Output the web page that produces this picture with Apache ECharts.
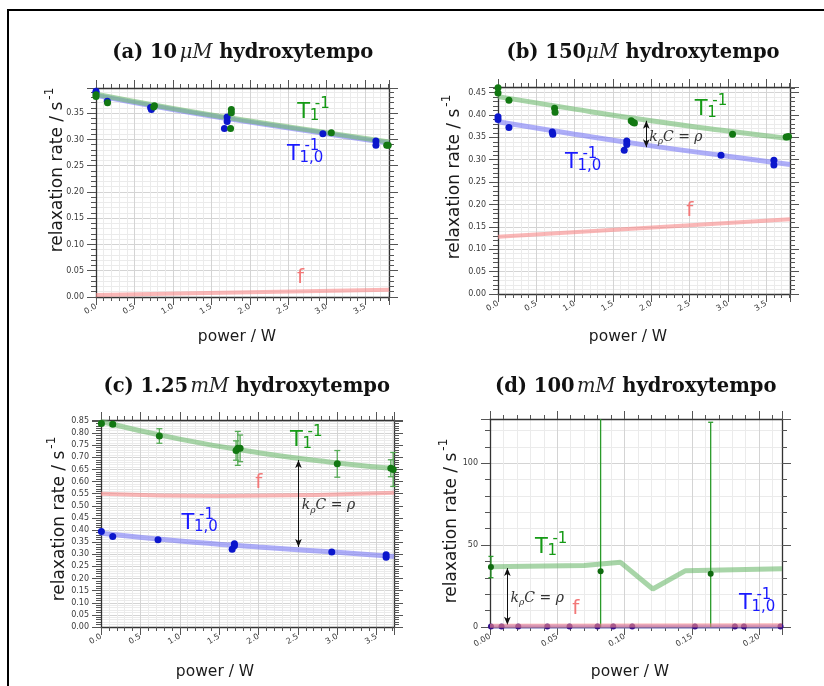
<!DOCTYPE html>
<html><head><meta charset="utf-8">
<script src="https://cdn.jsdelivr.net/npm/echarts@6/dist/echarts.min.js"></script>
<style>html,body{margin:0;padding:0;background:#fff}#c{width:824px;height:686px}</style>
</head><body><div id="c"></div>
<script>
// ---------- Panel (a) 10 uM ----------
const aBlueX  = [0.00, 0.00, 0.147, 0.71, 0.72, 1.67, 1.705, 1.705, 2.95, 3.64, 3.64];
const aBlueY  = [0.392, 0.389, 0.373, 0.361, 0.357, 0.321, 0.343, 0.334, 0.311, 0.297, 0.289];
const aGreenX = [0.00, 0.00, 0.15, 0.75, 0.76, 1.75, 1.76, 1.76, 3.06, 3.78, 3.80];
const aGreenY = [0.385, 0.382, 0.370, 0.362, 0.364, 0.321, 0.351, 0.357, 0.313, 0.289, 0.289];
const aFitX   = [0, 1, 2, 3, 3.81];
const aGreenFit = [0.386, 0.359, 0.335, 0.313, 0.295];
const aBlueFit  = [0.384, 0.357, 0.333, 0.311, 0.293];
const aFX = [0, 3.81];
const aF  = [0.004, 0.014];

// ---------- Panel (b) 150 uM ----------
const bBlueX  = [0.00, 0.00, 0.143, 0.708, 0.715, 1.647, 1.68, 1.68, 2.91, 3.60, 3.60];
const bBlueY  = [0.396, 0.390, 0.372, 0.362, 0.357, 0.321, 0.342, 0.334, 0.310, 0.299, 0.288];
const bGreenX = [0.00, 0.00, 0.143, 0.738, 0.745, 1.738, 1.76, 1.78, 3.06, 3.76, 3.79];
const bGreenY = [0.461, 0.449, 0.433, 0.415, 0.406, 0.387, 0.384, 0.382, 0.357, 0.351, 0.352];
const bFitX   = [0, 1, 2, 3, 3.81];
const bGreenFit = [0.441, 0.413, 0.387, 0.364, 0.347];
const bBlueFit  = [0.385, 0.357, 0.331, 0.308, 0.2895];
const bFX = [0, 3.81];
const bF  = [0.128, 0.167];

// ---------- Panel (c) 1.25 mM ----------
const cBlueX  = [0.005, 0.149, 0.724, 1.665, 1.694, 1.694, 2.93, 3.62, 3.62];
const cBlueY  = [0.394, 0.373, 0.360, 0.321, 0.343, 0.335, 0.309, 0.298, 0.288];
const cGreenX = [0.005, 0.149, 0.741, 1.715, 1.737, 1.766, 3.00, 3.68, 3.71];
const cGreenY = [0.840, 0.836, 0.788, 0.728, 0.737, 0.737, 0.673, 0.655, 0.650];
const cGreenErr = [0.008, 0.008, 0.030, 0.040, 0.070, 0.055, 0.055, 0.035, 0.070];
const cFitX   = [0, 1, 2, 3, 3.72];
const cGreenFit = [0.848, 0.775, 0.719, 0.677, 0.654];
const cBlueFit  = [0.387, 0.355, 0.330, 0.308, 0.291];
const cFX = [0, 1.5, 3.72];
const cF  = [0.550, 0.540, 0.554];

// ---------- Panel (d) 100 mM ----------
const dBlueX  = [0.0007, 0.0086, 0.0210, 0.0426, 0.0591, 0.0799, 0.0916, 0.1057, 0.1523, 0.182, 0.1887, 0.2159];
const dBlueY  = [0.3, 0.3, 0.3, 0.3, 0.3, 0.3, 0.3, 0.3, 0.3, 0.3, 0.3, 0.3];
const dGreenX = [0.0007, 0.0822, 0.164];
const dGreenY = [36.6, 34.1, 32.5];
const dGreenErr = [6.5, 200, 92.5];
const dGreenFitX = [0, 0.07, 0.097, 0.121, 0.145, 0.217];
const dGreenFit  = [36.8, 37.5, 39.5, 23.2, 34.3, 35.6];
const dBlueFitX = [0, 0.217];
const dBlueFit  = [0.3, 0.3];
const dFX = [0, 0.217];
const dF  = [0.8, 1.0];

// ---------- axes / ticks ----------
const xMax = [3.81, 3.81, 3.72, 0.217];
const yMax = [0.398, 0.4625, 0.854, 127];
const xInterval = [0.5, 0.5, 0.5, 0.05];
const yInterval = [0.05, 0.05, 0.05, 50];
const xDecimals = [1, 1, 1, 2];
const yDecimals = [2, 2, 2, 0];
const titles = [
  ['(a)', '10', 'μM', true],
  ['(b)', '150', 'μM', false],
  ['(c)', '1.25', 'mM', true],
  ['(d)', '100', 'mM', true]
];

const chart = echarts.init(document.getElementById('c'), null, {renderer: 'canvas'});

const gridBoxes = [
  {left: 96, top: 88, width: 293, height: 209},
  {left: 498, top: 87, width: 292, height: 207},
  {left: 101, top: 420, width: 293, height: 207},
  {left: 490, top: 419, width: 292, height: 208}
];

const AX = '#333', TK = '#555', LB = '#3a3a3a';
const xAxes = [], yAxes = [];
for (let i = 0; i < 4; i++) {
  const common = {type: 'value', gridIndex: i, min: 0};
  xAxes.push(Object.assign({}, common, {
    position: 'bottom', max: xMax[i], interval: xInterval[i],
    axisLine: {show: true, onZero: false, lineStyle: {color: AX, width: 1.3}},
    axisTick: {show: true, length: 8, lineStyle: {color: TK}},
    minorTick: {show: true, splitNumber: 5, length: 4, lineStyle: {color: TK}},
    axisLabel: {show: true, rotate: 30, fontSize: 8, color: LB, margin: 9, fontFamily: 'DejaVu Sans',
      showMaxLabel: false, formatter: v => v.toFixed(xDecimals[i])},
    splitLine: {show: true, lineStyle: {color: '#d4d4d4', width: 1}},
    minorSplitLine: {show: true, lineStyle: {color: '#ebebeb', width: 1}}
  }));
  xAxes.push(Object.assign({}, common, {
    position: 'top', max: xMax[i], interval: xInterval[i],
    axisLine: {show: true, onZero: false, lineStyle: {color: AX, width: 1.3}},
    axisTick: {show: true, length: 8, lineStyle: {color: TK}},
    minorTick: {show: true, splitNumber: 5, length: 4, lineStyle: {color: TK}},
    axisLabel: {show: false}, splitLine: {show: false}, minorSplitLine: {show: false}
  }));
  yAxes.push(Object.assign({}, common, {
    position: 'left', max: yMax[i], interval: yInterval[i],
    axisLine: {show: true, onZero: false, lineStyle: {color: AX, width: 1.3}},
    axisTick: {show: true, length: 9, lineStyle: {color: TK}},
    minorTick: {show: true, splitNumber: 5, length: 5, lineStyle: {color: TK}},
    axisLabel: {show: true, fontSize: 8, color: LB, margin: 12, fontFamily: 'DejaVu Sans',
      showMaxLabel: false, formatter: v => v.toFixed(yDecimals[i])},
    splitLine: {show: true, lineStyle: {color: '#d4d4d4', width: 1}},
    minorSplitLine: {show: true, lineStyle: {color: '#ebebeb', width: 1}}
  }));
  yAxes.push(Object.assign({}, common, {
    position: 'right', max: yMax[i], interval: yInterval[i],
    axisLine: {show: true, onZero: false, lineStyle: {color: AX, width: 1.3}},
    axisTick: {show: true, length: 9, lineStyle: {color: TK}},
    minorTick: {show: true, splitNumber: 5, length: 5, lineStyle: {color: TK}},
    axisLabel: {show: false}, splitLine: {show: false}, minorSplitLine: {show: false}
  }));
}

const zip = (xs, ys) => xs.map((x, k) => [x, ys[k]]);
const zip3 = (xs, ys, es) => xs.map((x, k) => [x, ys[k], es[k]]);

const GREEN_PT = '#127812', BLUE_PT = '#0b16cc';
const GREEN_FIT = 'rgba(110,185,110,0.6)', BLUE_FIT = 'rgba(120,120,245,0.6)', F_LINE = 'rgba(246,135,135,0.6)';

function scatter(i, xs, ys, color, size) {
  return {type: 'scatter', xAxisIndex: 2 * i, yAxisIndex: 2 * i, data: zip(xs, ys),
    symbolSize: size, itemStyle: {color: color, opacity: 1}, z: 5, silent: true};
}
function line(i, xs, ys, color, width, smooth, z, extra) {
  return Object.assign({type: 'line', xAxisIndex: 2 * i, yAxisIndex: 2 * i, data: zip(xs, ys),
    showSymbol: false, symbol: 'none', smooth: smooth, lineStyle: {color: color, width: width},
    z: z, silent: true}, extra || {});
}
function arrowLine(x, y1, y2) {
  return {markLine: {silent: true, symbol: ['arrow', 'arrow'], symbolSize: [5, 8],
    label: {show: false}, lineStyle: {color: '#111', width: 1, type: 'solid'},
    data: [[{coord: [x, y1]}, {coord: [x, y2]}]]}};
}
function errBars(i, xs, ys, es, color, capW) {
  return {type: 'custom', xAxisIndex: 2 * i, yAxisIndex: 2 * i, data: zip3(xs, ys, es), z: 4, silent: true,
    encode: {x: 0, y: 1},
    renderItem: function (params, api) {
      const x = api.value(0), y = api.value(1), e = api.value(2);
      const top = api.coord([x, y + e]), bot = api.coord([x, y - e]);
      const cs = params.coordSys;
      const yT = cs.y, yB = cs.y + cs.height;
      const t = Math.max(top[1], yT), b = Math.min(bot[1], yB);
      const st = {stroke: color, lineWidth: 1.3};
      const ch = [{type: 'line', shape: {x1: top[0], y1: t, x2: top[0], y2: b}, style: st}];
      if (top[1] >= yT) ch.push({type: 'line', shape: {x1: top[0] - capW / 2, y1: top[1], x2: top[0] + capW / 2, y2: top[1]}, style: st});
      if (bot[1] <= yB) ch.push({type: 'line', shape: {x1: bot[0] - capW / 2, y1: bot[1], x2: bot[0] + capW / 2, y2: bot[1]}, style: st});
      return {type: 'group', children: ch};
    }};
}

const series = [
  // (a) index 0..4
  line(0, aFX, aF, F_LINE, 4, false, 2),
  line(0, aFitX, aBlueFit, BLUE_FIT, 5, true, 2),
  line(0, aFitX, aGreenFit, GREEN_FIT, 5, true, 3),
  scatter(0, aBlueX, aBlueY, BLUE_PT, 7),
  scatter(0, aGreenX, aGreenY, GREEN_PT, 7),
  // (b) 5..9
  line(1, bFX, bF, F_LINE, 4, false, 2),
  line(1, bFitX, bBlueFit, BLUE_FIT, 5, true, 2),
  line(1, bFitX, bGreenFit, GREEN_FIT, 5, true, 3, arrowLine(1.935, 0.387, 0.328)),
  scatter(1, bBlueX, bBlueY, BLUE_PT, 7),
  scatter(1, bGreenX, bGreenY, GREEN_PT, 7),
  // (c) 10..15
  line(2, cFX, cF, F_LINE, 4, true, 2),
  line(2, cFitX, cBlueFit, BLUE_FIT, 5, true, 2),
  line(2, cFitX, cGreenFit, GREEN_FIT, 5, true, 3, arrowLine(2.507, 0.689, 0.33)),
  errBars(2, cGreenX, cGreenY, cGreenErr, '#55aa55', 6),
  scatter(2, cBlueX, cBlueY, BLUE_PT, 7),
  scatter(2, cGreenX, cGreenY, GREEN_PT, 7),
  // (d) 16..21
  line(3, dBlueFitX, dBlueFit, BLUE_FIT, 4, false, 2),
  line(3, dGreenFitX, dGreenFit, GREEN_FIT, 5, false, 3, arrowLine(0.0129, 36, 1.4)),
  errBars(3, dGreenX, dGreenY, dGreenErr, '#2a9a2a', 5),
  scatter(3, dBlueX, dBlueY, '#36118a', 6),
  line(3, dFX, dF, F_LINE, 4, false, 6),
  scatter(3, dGreenX, dGreenY, '#0e6a0e', 6)
];

chart.setOption({
  animation: false,
  backgroundColor: '#fff',
  grid: gridBoxes.map(g => Object.assign({containLabel: false}, g)),
  xAxis: xAxes,
  yAxis: yAxes,
  series: series
});

// ---------- annotations (data coordinates) ----------
const panelSeries = [0, 5, 10, 16];
const T1Pos   = [[2.617, 0.3515], [2.568, 0.4118], [2.401, 0.768], [0.0334, 48.7]];
const T10Pos  = [[2.483, 0.272], [0.873, 0.2935], [1.0216, 0.427], [0.185, 14.2]];
const fPos    = [[2.613, 0.0371], [2.457, 0.1857], [1.957, 0.5966], [0.0611, 11.2]];
const kPos    = [null, [1.973, 0.351], [2.55, 0.5006], [0.0153, 17.7]];

const px = (i, p) => chart.convertToPixel({seriesIndex: panelSeries[i]}, p);
const G = [];
const SANS = 'DejaVu Sans', SERIF = 'DejaVu Serif';

function tLabel(pt, sub, color) {
  const [x, y] = pt;
  const base = {fontFamily: SANS, fill: color, align: 'left', verticalAlign: 'middle'};
  return [
    {type: 'text', x: x, y: y, z: 20, style: Object.assign({text: 'T', fontSize: 21}, base)},
    {type: 'text', x: x + 12.5, y: y + 3.5, z: 20, style: Object.assign({text: sub, fontSize: 15}, base)},
    {type: 'text', x: x + 17.5, y: y - 8.5, z: 20, style: Object.assign({text: '-1', fontSize: 15}, base)}
  ];
}
function kLabel(pt) {
  return {type: 'text', x: pt[0], y: pt[1], z: 20, style: {
    text: '{i|k}{s|ρ}{i|C}{n| = }{i|ρ}', align: 'left', verticalAlign: 'middle',
    rich: {
      i: {fontFamily: SERIF, fontStyle: 'italic', fontSize: 14, fill: '#333', lineHeight: 18, verticalAlign: 'middle'},
      n: {fontFamily: SERIF, fontSize: 14, fill: '#333', lineHeight: 18, verticalAlign: 'middle'},
      s: {fontFamily: SERIF, fontStyle: 'italic', fontSize: 9, fill: '#333', lineHeight: 18, verticalAlign: 'bottom'}
    }}};
}

for (let i = 0; i < 4; i++) {
  G.push(...tLabel(px(i, T1Pos[i]), '1', '#159a15'));
  G.push(...tLabel(px(i, T10Pos[i]), '1,0', '#1a1aff'));
  const fp = px(i, fPos[i]);
  G.push({type: 'text', x: fp[0], y: fp[1], z: 20, style: {text: 'f', fontFamily: SANS, fontSize: 20, fill: '#f27878', align: 'left', verticalAlign: 'middle'}});
  if (kPos[i]) G.push(kLabel(px(i, kPos[i])));
}

// titles
const titleCenters = [[242.7, 53], [643, 53], [246.7, 387], [635.7, 387]];
titles.forEach((t, i) => {
  const gap = t[3] ? ' ' : '';
  G.push({type: 'text', x: titleCenters[i][0], y: titleCenters[i][1], z: 20, style: {
    text: '{b|' + t[0] + ' ' + t[1] + '}{t|' + gap + '}{m|' + t[2] + '}{b| hydroxytempo}',
    align: 'center', verticalAlign: 'middle',
    rich: {
      b: {fontFamily: SERIF, fontWeight: 'bold', fontSize: 19.5, fill: '#111'},
      t: {fontFamily: SERIF, fontSize: 8, fill: '#111'},
      m: {fontFamily: SERIF, fontStyle: 'italic', fontSize: 19.5, fill: '#222'}
    }}});
});

// axis names
const yNameCenters = [[55, 170], [452, 177], [57, 519], [449, 521]];
const xNameCenters = [[237, 337], [628, 337], [215, 672], [630, 672]];
for (let i = 0; i < 4; i++) {
  G.push({type: 'text', x: yNameCenters[i][0], y: yNameCenters[i][1], rotation: Math.PI / 2, z: 20, style: {
    text: '{m|relaxation rate / s}{s|-1}', align: 'center', verticalAlign: 'middle',
    rich: {
      m: {fontFamily: SANS, fontSize: 17, fill: '#1a1a1a', lineHeight: 23, verticalAlign: 'bottom'},
      s: {fontFamily: SANS, fontSize: 12, fill: '#1a1a1a', lineHeight: 23, verticalAlign: 'top', padding: [0, 0, 0, 2]}
    }}});
  G.push({type: 'text', x: xNameCenters[i][0], y: xNameCenters[i][1], z: 20, style: {
    text: 'power / W', fontFamily: SANS, fontSize: 15.5, fill: '#1a1a1a', align: 'center', verticalAlign: 'middle'}});
}

// outer frame
G.push({type: 'rect', z: 30, shape: {x: 8, y: 10, width: 830, height: 700}, style: {fill: 'none', stroke: '#000', lineWidth: 2}});

chart.setOption({graphic: G});
</script>
</body></html>
